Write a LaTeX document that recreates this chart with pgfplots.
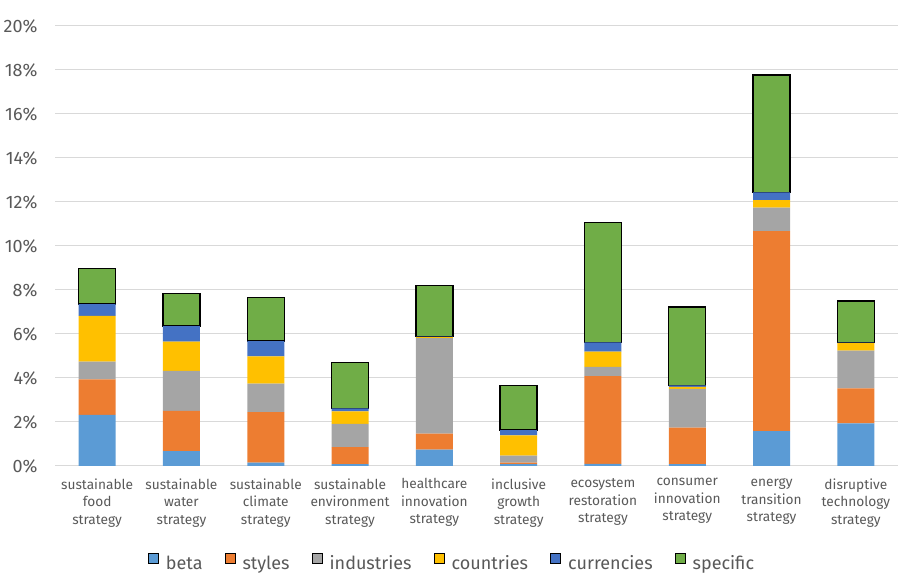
\documentclass[border=0pt]{standalone}
\usepackage{pgfplots}
\pgfplotsset{compat=1.18}
\usepackage{fontspec}
\setmainfont{Fira Sans}
\definecolor{cbeta}{HTML}{5B9BD5}
\definecolor{cstyles}{HTML}{ED7D31}
\definecolor{cind}{HTML}{A5A5A5}
\definecolor{ccty}{HTML}{FFC000}
\definecolor{ccur}{HTML}{4472C4}
\definecolor{cspec}{HTML}{70AD47}
\definecolor{txt}{HTML}{595959}
\definecolor{cgrid}{HTML}{D9D9D9}
\begin{document}
\begin{tikzpicture}
\useasboundingbox (0,0) rectangle (900pt,588pt);
\begin{axis}[
  at={(55pt,122pt)}, anchor=south west,
  scale only axis, width=843pt, height=440pt,
  ybar stacked, bar width=37pt,
  xmin=-0.5, xmax=9.5, ymin=0, ymax=20,
  xtick={0,...,9},
  xticklabels={{sustainable\\food\\strategy},{sustainable\\water\\strategy},{sustainable\\climate\\strategy},{sustainable\\environment\\strategy},{healthcare\\innovation\\strategy},{inclusive\\growth\\strategy},{ecosystem\\restoration\\strategy},{consumer\\innovation\\strategy},{energy\\transition\\strategy},{disruptive\\technology\\strategy}},
  xticklabel style={align=center, font=\fontsize{13.7}{17.5}\selectfont, text=txt, yshift=-9pt},
  ytick={0,2,...,20},
  yticklabel={\pgfmathprintnumber{\tick}\%},
  yticklabel style={font=\fontsize{18}{21}\selectfont, text=txt, xshift=-14pt},
  /pgf/number format/assume math mode=true,
  axis line style={draw=none},
  tick style={draw=none},
  xmajorgrids=false, ymajorgrids=true,
  grid style={draw=cgrid, line width=1pt},
  legend columns=6,
  legend style={at={(0.471,-0.22)}, anchor=center, draw=none, fill=none,
    font=\fontsize{18}{21}\selectfont, text=txt,
    /tikz/every odd column/.append style={column sep=5pt},
    /tikz/every even column/.append style={column sep=20pt}},
  legend image code/.code={\draw[#1, line width=1pt] (0pt,0pt) rectangle (10pt,10pt);},
]
\addplot[fill=cbeta, draw=none] coordinates {(0,2.32) (1,0.68) (2,0.15) (3,0.09) (4,0.74) (5,0.08) (6,0.10) (7,0.09) (8,1.59) (9,1.94)};
\addplot[fill=cstyles, draw=none] coordinates {(0,1.62) (1,1.82) (2,2.30) (3,0.77) (4,0.73) (5,0.07) (6,3.99) (7,1.65) (8,9.09) (9,1.59)};
\addplot[fill=cind, draw=none] coordinates {(0,0.80) (1,1.82) (2,1.29) (3,1.05) (4,4.34) (5,0.32) (6,0.42) (7,1.77) (8,1.06) (9,1.71)};
\addplot[fill=ccty, draw=none] coordinates {(0,2.08) (1,1.33) (2,1.24) (3,0.57) (4,0.05) (5,0.92) (6,0.69) (7,0.09) (8,0.35) (9,0.34)};
\addplot[fill=ccur, draw=none] coordinates {(0,0.54) (1,0.71) (2,0.70) (3,0.14) (4,0.02) (5,0.24) (6,0.42) (7,0.06) (8,0.35) (9,0.03)};
\addplot[fill=cspec, draw=black, line width=1.4pt] coordinates {(0,1.61) (1,1.49) (2,1.99) (3,2.09) (4,2.32) (5,2.02) (6,5.46) (7,3.57) (8,5.33) (9,1.89)};
\legend{beta,styles,industries,countries,currencies,specific}
\end{axis}
\end{tikzpicture}
\end{document}
